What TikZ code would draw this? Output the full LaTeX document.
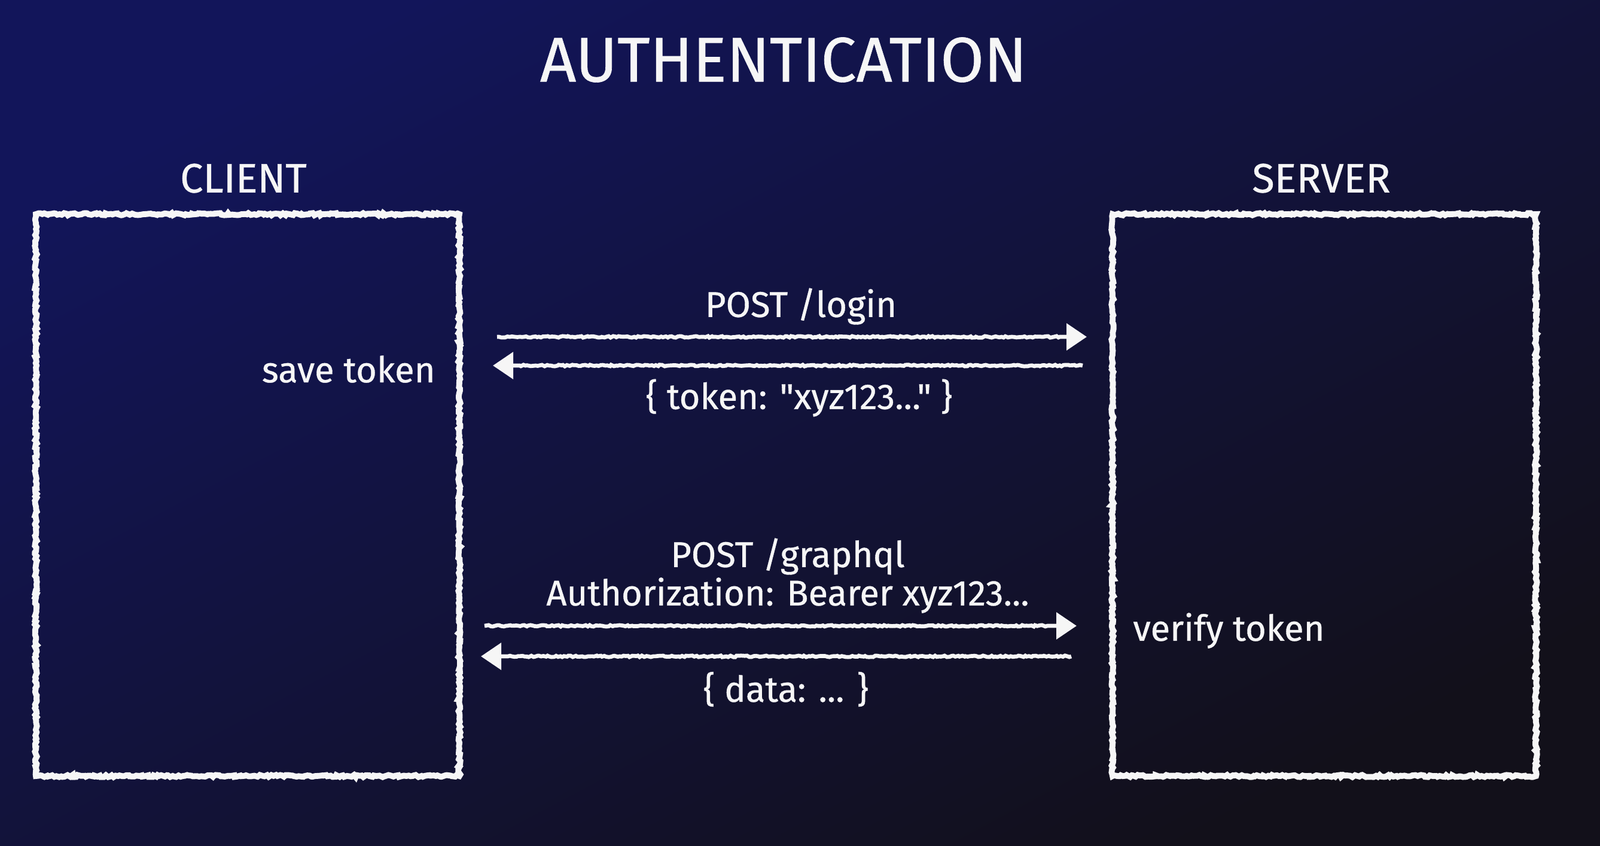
\documentclass[tikz,border=0pt]{standalone}
\usepackage{fontspec}
\setmainfont{Fira Sans}[Ligatures=TeXOff, FakeBold=0.6]
\usetikzlibrary{decorations.pathmorphing,arrows.meta}
\definecolor{bgA}{RGB}{18,21,90}
\definecolor{bgB}{RGB}{18,16,26}
\definecolor{chalk}{RGB}{246,246,246}
\tikzset{
  chalkbox/.style={draw=chalk, line width=2.8pt, rectangle, inner sep=0pt,
    minimum width=7.08cm, minimum height=9.39cm,
    decorate, decoration={random steps, segment length=1pt, amplitude=0.5pt}},
  msgline/.style={draw=chalk, line width=1.9pt,
    -{Triangle[length=0.34cm, width=0.44cm]},
    decorate, decoration={random steps, segment length=1pt, amplitude=0.35pt, post length=0.45cm}},
  titletext/.style={text=chalk, font=\fontsize{30}{33}\selectfont},
  headtext/.style={text=chalk, font=\fontsize{19.5}{22}\selectfont},
  msgtext/.style={text=chalk, font=\fontsize{17}{20}\selectfont},
}
\begin{document}
\begin{tikzpicture}
\useasboundingbox (0,0) rectangle (26.75,-14.13);
\shade[shading=axis, top color=bgA, bottom color=bgB, shading angle=28] (0,0) rectangle (26.75,-14.13);

\node[titletext] (title) at (13.10,-1.00) {AUTHENTICATION};
\node[headtext] (clientlbl) at (4.07,-2.98) {CLIENT};
\node[headtext] (serverlbl) at (22.09,-2.98) {SERVER};

\node[chalkbox] (client) at (4.14,-8.275) {};
\node[chalkbox] (server) at (22.14,-8.275) {};

\coordinate (a1s) at (8.31,-5.63);
\coordinate (a1e) at (18.17,-5.63);
\coordinate (a2s) at (18.10,-6.11);
\coordinate (a2e) at (8.24,-6.11);
\coordinate (a3s) at (8.10,-10.46);
\coordinate (a3e) at (18.00,-10.46);
\coordinate (a4s) at (17.91,-10.97);
\coordinate (a4e) at (8.04,-10.97);

\draw[msgline] (a1s) -- (a1e);
\draw[msgline] (a2s) -- (a2e);
\draw[msgline] (a3s) -- (a3e);
\draw[msgline] (a4s) -- (a4e);

\node[msgtext] (login) at (13.39,-5.12) {POST /login};
\node[msgtext] (token) at (13.36,-6.65) {\{ token: "xyz123..." \}};
\node[msgtext, anchor=east] (save) at (7.40,-6.17) {save token};
\node[msgtext] (gql) at (13.17,-9.30) {POST /graphql};
\node[msgtext] (auth) at (13.17,-9.95) {Authorization: Bearer xyz123...};
\node[msgtext] (data) at (13.14,-11.52) {\{ data: ... \}};
\node[msgtext, anchor=west] (verify) at (18.82,-10.54) {verify token};
\end{tikzpicture}
\end{document}
